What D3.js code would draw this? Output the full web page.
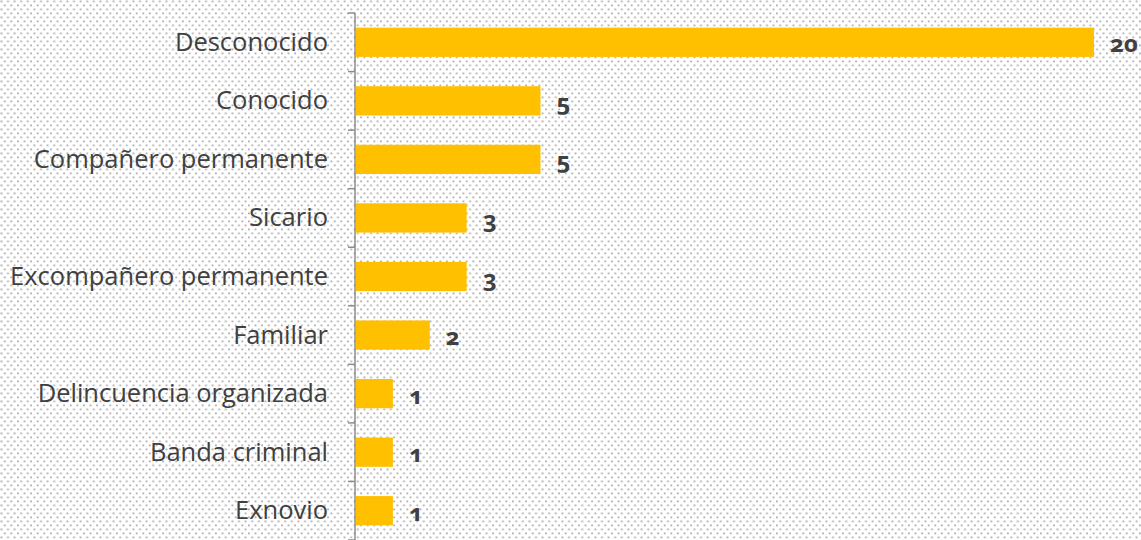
<!DOCTYPE html>
<meta charset="utf-8">
<script src="https://cdn.jsdelivr.net/npm/d3@7"></script>
<style>
  body { margin: 0; background: #fff; }
  text { font-family: "Open Sans", "Noto Sans", sans-serif; }
  .val { font-family: "Noto Sans", sans-serif; font-variant-numeric: oldstyle-nums; font-feature-settings: "onum" 1; }
</style>
<body>
<script>
// datos
var categorias = ["Desconocido", "Conocido", "Compañero permanente", "Sicario",
  "Excompañero permanente", "Familiar", "Delincuencia organizada", "Banda criminal", "Exnovio"];
var valores = [20, 5, 5, 3, 3, 2, 1, 1, 1];

var width = 1141, height = 540;
var axisX = 355;

var svg = d3.select("body").append("svg")
    .attr("width", width)
    .attr("height", height);

// fondo punteado (trama escalonada)
var pat = svg.append("defs").append("pattern")
    .attr("id", "dots")
    .attr("width", 6.6).attr("height", 8)
    .attr("patternUnits", "userSpaceOnUse");
pat.append("rect").attr("width", 6.6).attr("height", 8).attr("fill", "#fff");
pat.append("rect").attr("x", 0.5).attr("y", 0.5).attr("width", 1.8).attr("height", 1.8).attr("fill", "#aeaeae");
pat.append("rect").attr("x", 3.8).attr("y", 4.5).attr("width", 1.8).attr("height", 1.8).attr("fill", "#aeaeae");
svg.append("rect").attr("width", width).attr("height", height).attr("fill", "url(#dots)");

var x = d3.scaleLinear().domain([0, 20]).range([axisX + 1, 1094]);
var y = d3.scaleBand().domain(categorias).range([13, 540]).paddingInner(0.5).paddingOuter(0.25);

// barras
svg.selectAll(".bar").data(valores).enter().append("rect")
    .attr("class", "bar")
    .attr("x", x(0))
    .attr("y", function(d, i) { return y(categorias[i]); })
    .attr("width", function(d) { return x(d) - x(0); })
    .attr("height", y.bandwidth())
    .attr("fill", "#ffc000");

// eje
var step = y.step();
var eje = svg.append("g");
eje.append("line")
    .attr("x1", axisX).attr("x2", axisX)
    .attr("y1", 13).attr("y2", 540)
    .attr("stroke", "#8c8c8c").attr("stroke-width", 1.5);
eje.selectAll(".tick").data(d3.range(categorias.length + 1)).enter().append("line")
    .attr("x1", axisX - 7).attr("x2", axisX)
    .attr("y1", function(i) { return 13 + i * step; })
    .attr("y2", function(i) { return 13 + i * step; })
    .attr("stroke", "#8c8c8c").attr("stroke-width", 1.5);

// etiquetas de categoria
svg.selectAll(".cat").data(categorias).enter().append("text")
    .attr("x", 328)
    .attr("y", function(d) { return y(d) + y.bandwidth() / 2 + 8.5; })
    .attr("text-anchor", "end")
    .attr("font-size", 25.5)
    .attr("fill", "#404040")
    .text(function(d) { return d; });

// etiquetas de valor
svg.selectAll(".val").data(valores).enter().append("text")
    .attr("class", "val")
    .attr("x", function(d) { return x(d) + 16; })
    .attr("y", function(d, i) { return y(categorias[i]) + y.bandwidth() / 2 + 10; })
    .attr("font-size", 24)
    .attr("font-weight", "bold")
    .attr("fill", "#404040")
    .text(function(d) { return d; });
</script>
</body>
